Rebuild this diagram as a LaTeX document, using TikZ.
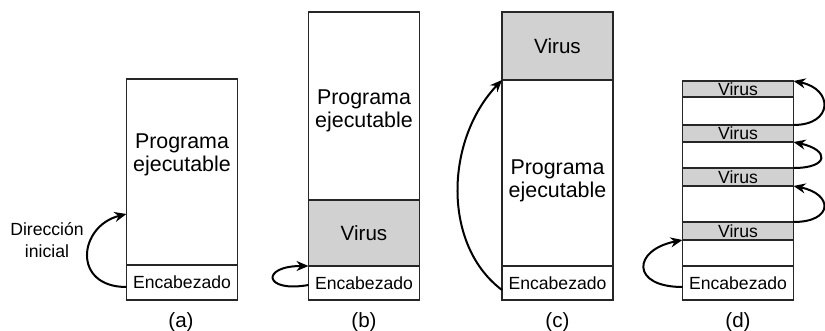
\documentclass[tikz,border=0pt]{standalone}
\usepackage{fontspec}
\setmainfont{Liberation Sans}
\usetikzlibrary{positioning,arrows.meta}

\begin{document}
\begin{tikzpicture}[x=0.5pt,y=-0.5pt,
  seg/.style={draw=black!85,line width=0.9pt,minimum width=55.5pt,inner sep=0pt,outer sep=0pt},
  vir/.style={seg,fill=black!18},
  txt/.style={font=\fontsize{10.7}{11.5}\selectfont,align=center},
  small/.style={font=\fontsize{8.8}{11}\selectfont,align=center},
  big/.style={font=\fontsize{10.3}{12}\selectfont},
  jump/.style={line width=1pt,-{Stealth[length=6pt,width=5pt]}}]
\useasboundingbox (0,0) rectangle (825,331);
% (a) programa original
\node[seg,anchor=north,minimum height=93pt] (a-prog) at (182,79) {};
\node[seg,small,minimum height=17.5pt,below=0pt of a-prog] (a-enc) {Encabezado};
\node[txt] (a-txt) at ([yshift=8.5pt]a-prog.center) {Programa\\ejecutable};
\node[small] (a-dir) at (47,240) {Dirección\\inicial};
\draw[jump] ([yshift=-2.25pt]a-enc.west) .. controls +(-55,0) and +(-48,12) .. ([yshift=-21pt]a-prog.west);
\node[big] (a-lbl) at (181,322) {(a)};
% (b) virus al final
\node[seg,anchor=north,minimum height=94pt] (b-prog) at (364,12) {};
\node[vir,big,minimum height=33pt,below=0pt of b-prog] (b-vir) {Virus};
\node[seg,small,minimum height=17pt,below=0pt of b-vir] (b-enc) {Encabezado};
\node[txt] (b-txt) at ([yshift=-2.5pt]b-prog.center) {Programa\\ejecutable};
\draw[jump] ([yshift=-1pt]b-enc.west) .. controls +(-45,8) and +(-48,0) .. (b-vir.south west);
\node[big] (b-lbl) at (364,322) {(b)};
% (c) virus al principio
\node[vir,big,anchor=north,minimum height=34pt] (c-vir) at (557.5,12) {Virus};
\node[seg,minimum height=93pt,below=0pt of c-vir] (c-prog) {};
\node[seg,small,minimum height=17pt,below=0pt of c-prog] (c-enc) {Encabezado};
\node[txt] (c-txt) at ([yshift=-4pt]c-prog.center) {Programa\\ejecutable};
\draw[jump] ([yshift=-3.5pt]c-enc.west) .. controls +(-60,-45) and +(-57,60) .. (c-vir.south west);
\node[big] (c-lbl) at (557.5,322) {(c)};
% (d) virus repartido en los huecos
\node[vir,small,anchor=north,minimum height=8pt] (d-v1) at (738,81) {Virus};
\node[seg,minimum height=14pt,below=0pt of d-v1] (d-w1) {};
\node[vir,small,minimum height=8.5pt,below=0pt of d-w1] (d-v2) {Virus};
\node[seg,minimum height=13pt,below=0pt of d-v2] (d-w2) {};
\node[vir,small,minimum height=9pt,below=0pt of d-w2] (d-v3) {Virus};
\node[seg,minimum height=18pt,below=0pt of d-v3] (d-w3) {};
\node[vir,small,minimum height=9pt,below=0pt of d-w3] (d-v4) {Virus};
\node[seg,minimum height=13pt,below=0pt of d-v4] (d-w4) {};
\node[seg,small,minimum height=17pt,below=0pt of d-w4] (d-enc) {Encabezado};
\draw[jump] ([yshift=-2pt]d-enc.west) .. controls +(-52,0) and +(-50,10) .. (d-v4.south west);
\foreach \from/\to/\d in {d-v4.north east/d-v3.south east/40,
                          d-v3.north east/d-v2.south east/36,
                          d-v2.north east/d-v1.north east/40}
  \draw[jump] (\from) .. controls +(\d,0) and +(\d,8) .. (\to);
\node[big] (d-lbl) at (738,322) {(d)};
\end{tikzpicture}
\end{document}
